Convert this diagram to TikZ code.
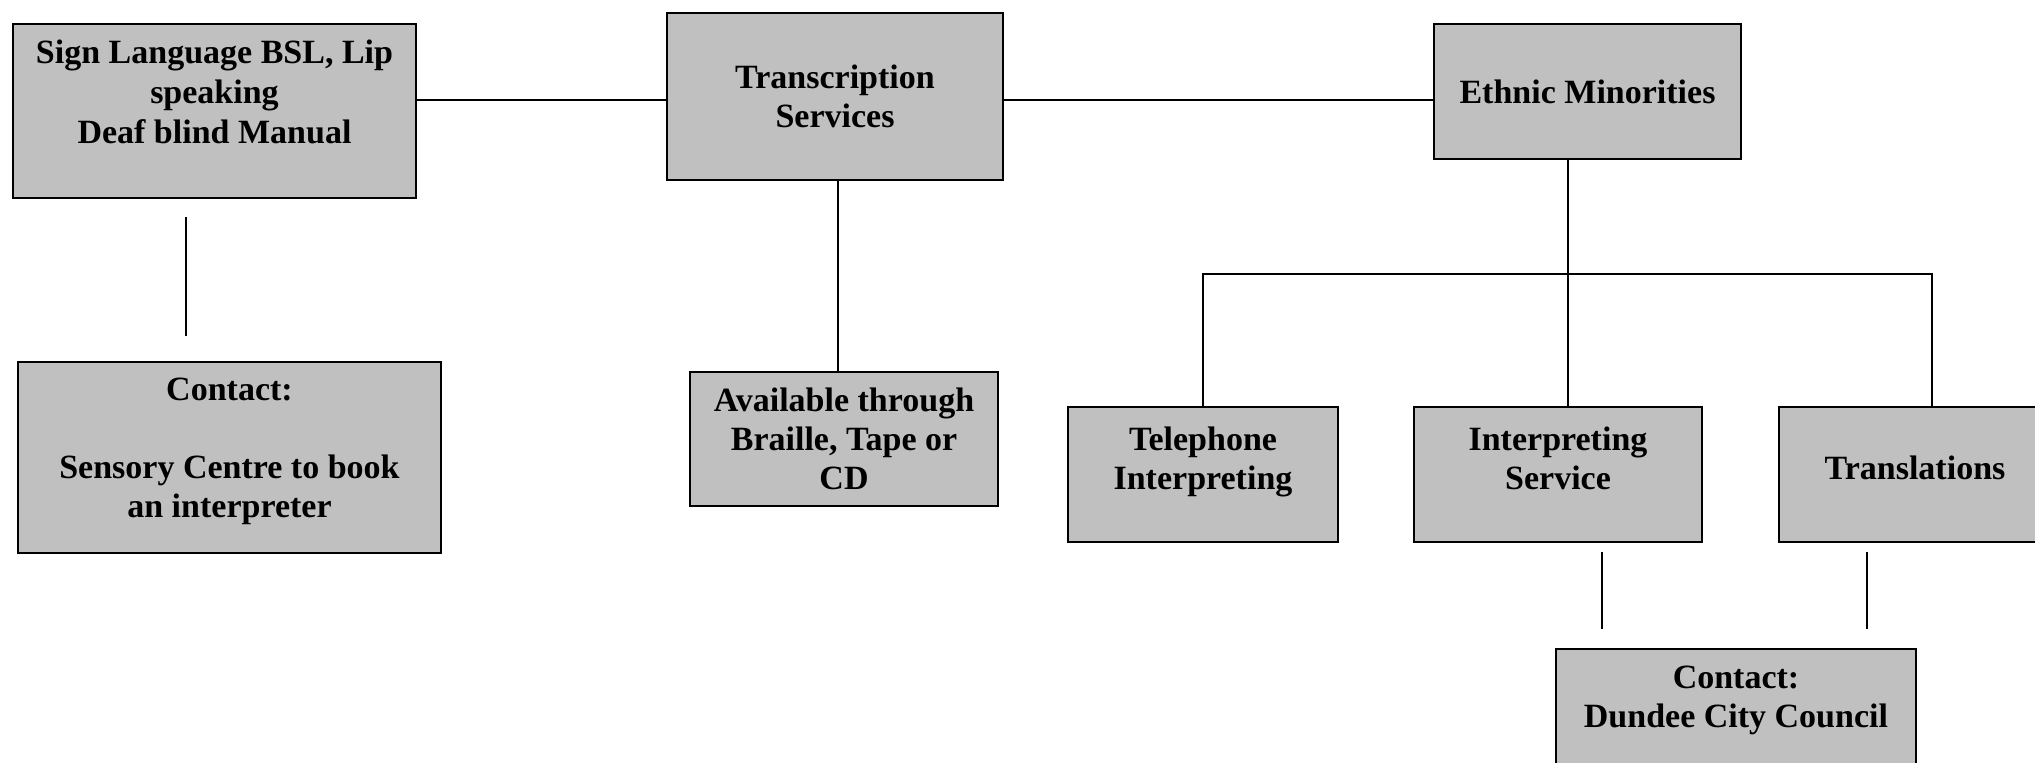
\documentclass[tikz,border=0pt]{standalone}
\usepackage{fontspec}
\setmainfont{Liberation Serif}
\usepackage{xcolor}
\usepackage{tikz}
\definecolor{boxgrey}{HTML}{C0C0C0}

\begin{document}
\begin{tikzpicture}[x=.5pt, y=-.5pt,
  box/.style={draw, fill=boxgrey, line width=1pt, anchor=north west, inner sep=0pt,
    align=center, font=\bfseries\fontsize{17}{19.5}\selectfont},
  wire/.style={line width=.8pt}]
             \clip (0,0) rectangle (2035,762);

             % top row
             \node[box, minimum width=201.5pt, minimum height=87pt] (sign) at (12,23)
               {Sign Language BSL, Lip\\[.5pt]speaking\\[.5pt]Deaf blind Manual\\\mbox{}};
             \node[box, minimum width=168pt, minimum height=83.5pt] (trans) at (666,12)
               {Transcription\\Services};
             \node[box, minimum width=153.5pt, minimum height=67.5pt] (ethnic) at (1433,23)
               {Ethnic Minorities};

             % second row
             \node[box, minimum width=211.5pt, minimum height=95.5pt] (sensory) at (17,361)
               {Contact:\\[19.5pt]Sensory Centre to book\\an interpreter\\[-10pt]\mbox{}};
             \node[box, minimum width=154pt, minimum height=67pt] (avail) at (689,371)
               {Available through\\Braille, Tape or\\CD};
             \node[box, minimum width=135pt, minimum height=67.5pt] (phone) at (1067,406)
               {Telephone\\Interpreting\\[-3.5pt]\mbox{}};
             \node[box, minimum width=144pt, minimum height=67.5pt] (interp) at (1413,406)
               {Interpreting\\Service\\[-3.5pt]\mbox{}};
             \node[box, minimum width=136pt, minimum height=67.5pt] (transl) at (1778,406)
               {Translations\\[-13pt]\mbox{}};
             \node[box, minimum width=180pt, minimum height=90pt] (dundee) at (1555,648)
               {Contact:\\Dundee City Council\\[22.5pt]\mbox{}};

             \coordinate (rowA) at (0,100);
             \coordinate (busmid) at (1568,274);
             \coordinate (busend) at (1932,274);
             \coordinate (gapA) at (186,217);
             \coordinate (gapB) at (186,336);
             \coordinate (gapC) at (1602,552);
             \coordinate (gapD) at (1602,629);
             \coordinate (gapE) at (1867,552);
             \coordinate (gapF) at (1867,629);

             \draw[wire] (sign.east |- rowA) -- (trans.west |- rowA);
             \draw[wire] (trans.east |- rowA) -- (ethnic.west |- rowA);
             \draw[wire] ([xshift=1.5pt]trans.south) -- ([xshift=1.5pt]trans.south |- avail.north);
             \draw[wire] (ethnic.south -| busmid) -- (interp.north -| busmid);
             \draw[wire] (phone.north) -- (phone.north |- busend) -- (busend) -- (busend |- transl.north);

             \draw[wire] (gapA) -- (gapB);
             \draw[wire] (gapC) -- (gapD);
             \draw[wire] (gapE) -- (gapF);
\end{tikzpicture}
\end{document}
